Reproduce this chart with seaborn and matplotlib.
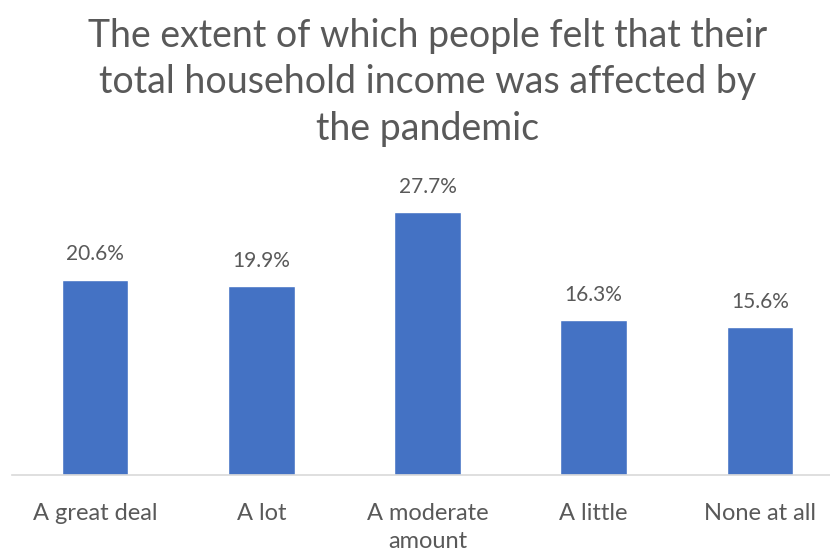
import matplotlib
matplotlib.use("Agg")
import matplotlib.pyplot as plt
import seaborn as sns
import pandas as pd

categories = ["A great deal", "A lot", "A moderate\namount", "A little", "None at all"]
values = [20.6, 19.9, 27.7, 16.3, 15.6]
value_labels = ["20.6%", "19.9%", "27.7%", "16.3%", "15.6%"]
title = "The extent of which people felt that their\ntotal household income was affected by\nthe pandemic"

df = pd.DataFrame({"category": categories, "value": values})

sns.set_theme(style="white")
plt.rcParams["font.family"] = ["Lato", "DejaVu Sans"]

fig = plt.figure(figsize=(8.3, 5.48), dpi=100)
ax = fig.add_axes([12 / 830, 73 / 548, 831 / 830, 284.7 / 548])

sns.barplot(data=df, x="category", y="value", color="#4472C4", width=0.4,
            saturation=1, ax=ax)

ax.set_ylim(0, 30)
ax.set_xlim(-0.5, 4.5)
for s in ["top", "right", "left"]:
    ax.spines[s].set_visible(False)
ax.spines["bottom"].set_color("#D9D9D9")
ax.spines["bottom"].set_linewidth(1.2)
ax.set_yticks([])
ax.set_xlabel("")
ax.set_ylabel("")
ax.tick_params(axis="x", length=0, pad=20, labelsize=17, labelcolor="#595959")
for t in ax.get_xticklabels():
    t.set_linespacing(1.4)

for patch, lab in zip(ax.patches, value_labels):
    ax.annotate(lab, (patch.get_x() + patch.get_width() / 2, patch.get_height()),
                xytext=(0, 11), textcoords="offset points", ha="center", va="bottom",
                fontsize=15, color="#595959")

fig.text(428 / 830, 1 - 18 / 548, title, ha="center", va="top", fontsize=27,
         color="#595959", linespacing=1.36)

fig.savefig("out.png", dpi=100)
